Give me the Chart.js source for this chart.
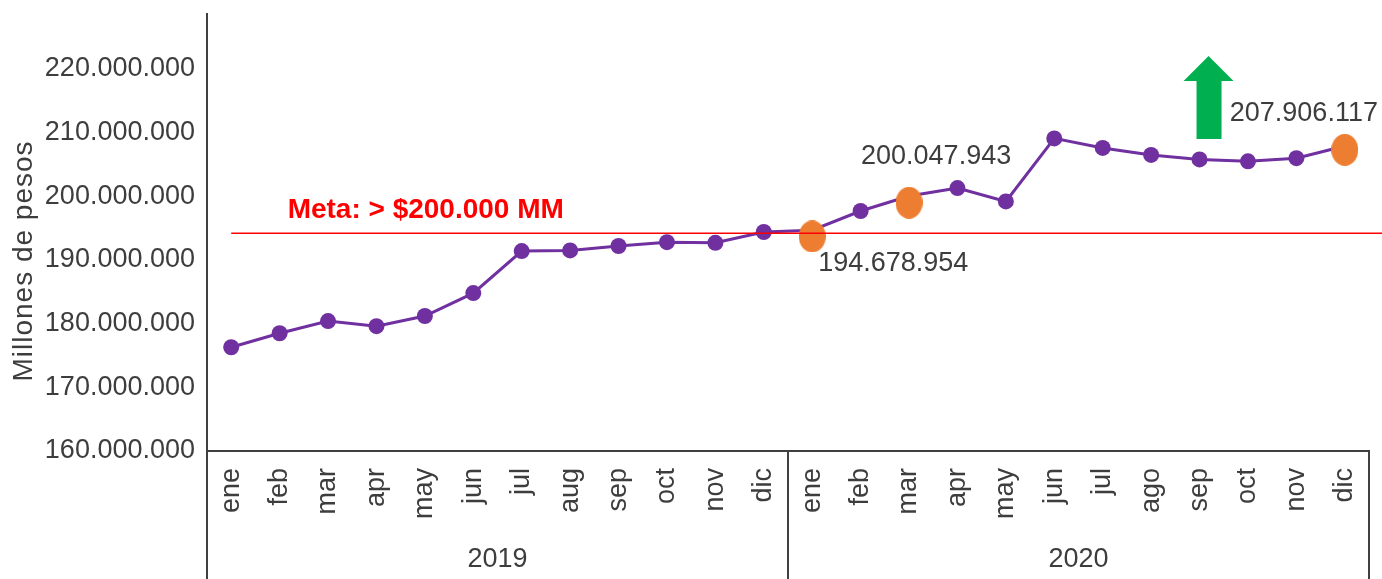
<!DOCTYPE html>
<html>
<head>
<meta charset="utf-8">
<script src="https://cdn.jsdelivr.net/npm/chart.js@4.4.0/dist/chart.umd.min.js"></script>
<style>
  html, body { margin: 0; padding: 0; background: #fff; }
  #wrap { width: 1382px; height: 579px; }
</style>
</head>
<body>
<div id="wrap"><canvas id="ventasChart"></canvas></div>
<script>
// ----------- data -----------
const months = ["ene", "feb", "mar", "apr", "may", "jun", "jul", "aug", "sep", "oct", "nov", "dic",
                "ene", "feb", "mar", "apr", "may", "jun", "jul", "ago", "sep", "oct", "nov", "dic"];
const years = ["2019", "2020"];
const ventas = [176300000, 178500000, 180400000, 179600000, 181200000, 184800000,
                191400000, 191500000, 192200000, 192800000, 192700000, 194400000,
                194678954, 197700000, 200047943, 201300000, 199200000, 209100000,
                207600000, 206500000, 205800000, 205500000, 206000000, 207906117];
// orange marks, read where the ellipses sit in the picture
const marcas = [null, null, null, null, null, null, null, null, null, null, null, null,
                193700000, null, 199000000, null, null, null, null, null, null, null, null, 207300000];
const etiquetas = [
  { idx: 12, text: "194.678.954" },
  { idx: 14, text: "200.047.943" },
  { idx: 23, text: "207.906.117" },
];
const meta = 194200000;
const metaText = "Meta: > $200.000 MM";
const yTicks = [160000000, 170000000, 180000000, 190000000, 200000000, 210000000, 220000000];

const fmt = (v) => String(Math.round(v)).replace(/\B(?=(\d{3})+(?!\d))/g, ".");
const textColor = "#3d3d3d";
const font = "Liberation Sans, Arial, Helvetica, sans-serif";

// ellipse used as point style for the orange marks
const ellipse = document.createElement("canvas");
ellipse.width = 27;
ellipse.height = 32;
(() => {
  const c = ellipse.getContext("2d");
  c.fillStyle = "#ED7D31";
  c.beginPath();
  c.ellipse(13.5, 16, 13.5, 16, 0, 0, Math.PI * 2);
  c.fill();
})();

// ----------- extra drawing: meta line, labels, arrow, year boxes -----------
const extras = {
  id: "extras",
  afterDraw(chart) {
    const ctx = chart.ctx;
    const x = chart.scales.x;
    const y = chart.scales.y;
    const area = chart.chartArea;
    ctx.save();

    // meta line
    const my = y.getPixelForValue(meta);
    ctx.strokeStyle = "#FF0000";
    ctx.lineWidth = 1.5;
    ctx.beginPath();
    ctx.moveTo(x.getPixelForValue(0), my);
    ctx.lineTo(chart.width, my);
    ctx.stroke();

    ctx.fillStyle = "#FF0000";
    ctx.font = "bold 28px " + font;
    ctx.textAlign = "left";
    ctx.textBaseline = "middle";
    ctx.fillText(metaText, x.getPixelForValue(1) + 8, my - 23);

    // value labels
    ctx.fillStyle = textColor;
    ctx.font = "27px " + font;
    const lp = [
      [6, 33],
      [-48, -39],
      [-115, -32],
    ];
    etiquetas.forEach((e, i) => {
      ctx.fillText(e.text, x.getPixelForValue(e.idx) + lp[i][0], y.getPixelForValue(ventas[e.idx]) + lp[i][1]);
    });

    // green arrow
    const ax = x.getPixelForValue(20) + 9;
    ctx.fillStyle = "#00B050";
    ctx.beginPath();
    ctx.moveTo(ax, 56);
    ctx.lineTo(ax + 25, 81);
    ctx.lineTo(ax + 13, 81);
    ctx.lineTo(ax + 13, 139);
    ctx.lineTo(ax - 12, 139);
    ctx.lineTo(ax - 12, 81);
    ctx.lineTo(ax - 25, 81);
    ctx.closePath();
    ctx.fill();

    // year boxes under the axis
    const mid = (x.getPixelForValue(11) + x.getPixelForValue(12)) / 2;
    ctx.strokeStyle = "#404040";
    ctx.lineWidth = 2;
    [area.left, mid, area.right].forEach((px) => {
      ctx.beginPath();
      ctx.moveTo(px, area.bottom);
      ctx.lineTo(px, chart.height);
      ctx.stroke();
    });
    ctx.fillStyle = textColor;
    ctx.font = "27px " + font;
    ctx.textAlign = "center";
    ctx.fillText(years[0], (area.left + mid) / 2, 560);
    ctx.fillText(years[1], (mid + area.right) / 2, 560);

    // y axis title
    ctx.translate(24, 261);
    ctx.rotate(-Math.PI / 2);
    ctx.font = "28px " + font;
    ctx.letterSpacing = "1px";
    ctx.fillText("Millones de pesos", 0, 0);
    ctx.restore();
  },
};

new Chart(document.getElementById("ventasChart"), {
  type: "line",
  data: {
    labels: months,
    datasets: [
      {
        label: "Meta marcas",
        data: marcas,
        showLine: false,
        pointStyle: ellipse,
        order: 0,
      },
      {
        label: "Ventas",
        data: ventas,
        borderColor: "#7030A0",
        backgroundColor: "#7030A0",
        borderWidth: 3,
        pointRadius: 8,
        pointBackgroundColor: "#7030A0",
        pointBorderWidth: 0,
        tension: 0,
        order: 1,
      },
    ],
  },
  options: {
    responsive: true,
    maintainAspectRatio: false,
    animation: false,
    layout: { padding: { top: 14, right: 13, left: 0, bottom: 0 } },
    plugins: {
      legend: { display: false },
      tooltip: { enabled: false },
    },
    scales: {
      x: {
        offset: true,
        grid: { display: false, drawTicks: false },
        border: { display: true, color: "#404040", width: 2 },
        ticks: {
          color: textColor,
          font: { family: font, size: 27 },
          minRotation: 90,
          maxRotation: 90,
          autoSkip: false,
          padding: 17,
        },
        afterFit: (s) => { s.height = 128; s.paddingLeft = 0; s.paddingRight = 0; },
      },
      y: {
        min: 160000000,
        max: 228640000,
        grid: { display: false, drawTicks: false },
        border: { display: true, color: "#404040", width: 2 },
        afterBuildTicks: (s) => { s.ticks = yTicks.map((v) => ({ value: v })); },
        ticks: {
          color: textColor,
          font: { family: font, size: 27 },
          padding: 12,
          callback: (v) => fmt(v),
        },
        afterFit: (s) => { s.width = 207; s.paddingTop = 0; s.paddingBottom = 0; },
      },
    },
  },
  plugins: [extras],
});
</script>
</body>
</html>
